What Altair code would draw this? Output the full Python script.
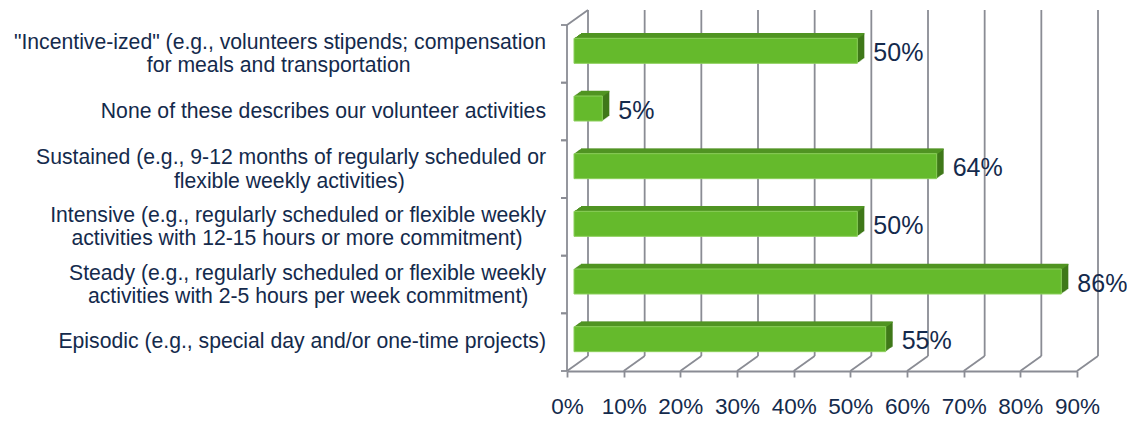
import altair as alt
import pandas as pd

# ---------------- data ----------------
line1 = [
    '"Incentive-ized" (e.g., volunteers stipends; compensation',
    'None of these describes our volunteer activities',
    'Sustained (e.g., 9-12 months of regularly scheduled or',
    'Intensive (e.g., regularly scheduled or flexible weekly',
    'Steady (e.g., regularly scheduled or flexible weekly',
    'Episodic (e.g., special day and/or one-time projects)',
]
line2 = [
    'for meals and transportation',
    '',
    'flexible weekly activities)',
    'activities with 12-15 hours or more commitment)',
    'activities with 2-5 hours per week commitment)',
    '',
]
values = [50, 5, 64, 50, 86, 55]
tick_values = [0, 10, 20, 30, 40, 50, 60, 70, 80, 90]

# ---------------- styles ----------------
FONT = "Liberation Sans"
TEXT = "#142A4C"
GRID = "#8A8C94"
FRONT = "#65BA2C"
TOP = "#509422"
SIDE = "#3F7819"
EDGE = "#8CCF5C"
W, H = 510, 346
DX, DY = 21, -15        # depth of the back wall
BDX, BDY = 7, -5        # depth of a bar
BAR = 25
LW = 1.8

# Arial/Helvetica advance widths (1/1000 em) to centre the second line
_w = {' ': 278, '"': 355, '(': 333, ')': 333, ',': 278, '-': 333, '.': 278,
      '/': 278, ';': 278, ':': 278, '%': 889}
for c in '0123456789':
    _w[c] = 556
_w.update(dict(zip('ABCDEFGHIJKLMNOPQRSTUVWXYZ',
                   [667, 667, 722, 722, 667, 611, 778, 722, 278, 500, 667, 556, 833,
                    722, 778, 667, 778, 722, 667, 611, 722, 667, 944, 667, 667, 611])))
_w.update(dict(zip('abcdefghijklmnopqrstuvwxyz',
                   [556, 556, 500, 556, 556, 278, 556, 556, 222, 222, 500, 222, 833,
                    556, 556, 556, 556, 333, 500, 278, 556, 500, 722, 500, 500, 500])))


def tw(s):
    return sum(_w.get(ch, 556) for ch in s)


def pad_lines(a, b):
    """Right-aligned block whose lines are centred on each other."""
    if not b:
        return a
    diff = tw(a) - tw(b)
    n = int(round(abs(diff) / 2 / 278))
    pad = '\u00a0' * n + '\u200b'   # zero-width end keeps the padding from being trimmed
    if diff > 0:
        b = b + pad
    else:
        a = a + pad
    return a + '\n' + b


cats = [f"c{i}" for i in range(len(values))]
df = pd.DataFrame({
    "cat": cats,
    "v": values,
    "lab": [f"{v}%" for v in values],
    "disp": [pad_lines(a, b) for a, b in zip(line1, line2)],
    "nl": [2 if b else 1 for b in line2],
})
ticks_df = pd.DataFrame({"t": tick_values})
zero_df = pd.DataFrame({"t": [tick_values[0]]})

xs = alt.Scale(domain=[tick_values[0], tick_values[-1]], nice=False, zero=False)
ys = alt.Scale(domain=cats, paddingInner=0, paddingOuter=0)
xaxis = alt.Axis(values=tick_values, labelExpr="datum.value + '%'", grid=False,
                 domainColor=GRID, domainWidth=LW, tickColor=GRID, tickWidth=LW,
                 tickSize=6, labelFontSize=22.5, labelColor=TEXT, labelFont=FONT,
                 labelPadding=18, title=None, labelFlush=False, labelOverlap=False)


def X(f):
    return alt.X(f, type="quantitative", scale=xs, axis=xaxis)


def Y(**kw):
    return alt.Y("cat:N", scale=ys, axis=None, sort=cats, **kw)


layers = []

# back wall gridlines
layers.append(alt.Chart(ticks_df).mark_rule(color=GRID, strokeWidth=LW, xOffset=DX,
                                             yOffset=DY, y2Offset=DY).encode(
    x=X("t"), y=alt.value(0), y2=alt.value(H)))
# floor diagonals
layers.append(alt.Chart(ticks_df).mark_rule(color=GRID, strokeWidth=LW, x2Offset=DX,
                                             y2Offset=DY).encode(
    x=X("t"), x2=alt.X2("t"), y=alt.value(H), y2=alt.value(H)))
# left wall front edge and top diagonal
layers.append(alt.Chart(zero_df).mark_rule(color=GRID, strokeWidth=LW).encode(
    x=X("t"), y=alt.value(0), y2=alt.value(H)))
layers.append(alt.Chart(zero_df).mark_rule(color=GRID, strokeWidth=LW, x2Offset=DX,
                                            y2Offset=DY).encode(
    x=X("t"), x2=alt.X2("t"), y=alt.value(0), y2=alt.value(0)))
# left category ticks
for bp in (0, 1):
    layers.append(alt.Chart(df).mark_rule(color=GRID, strokeWidth=LW).encode(
        x=alt.value(-6), x2=alt.value(0), y=Y(bandPosition=bp)))

# bars: side/back copies
YO = -3
for k in range(1, BDX + 1):
    layers.append(alt.Chart(df).mark_bar(color=SIDE, size=BAR, xOffset=BDX + k,
                                         x2Offset=BDX + k,
                                         yOffset=YO + BDY * k / BDX).encode(
        x=X("v"), x2=alt.datum(0), y=Y()))
# top face
for m in range(1, -BDY + 1):
    sh = BDX + m * BDX / (-BDY)
    layers.append(alt.Chart(df).mark_rule(color=TOP, strokeWidth=1.5, xOffset=sh,
                                          x2Offset=sh,
                                          yOffset=YO - BAR / 2 - m + 0.5).encode(
        x=X("v"), x2=alt.datum(0), y=Y()))
# front face
layers.append(alt.Chart(df).mark_bar(color=FRONT, size=BAR, xOffset=BDX, x2Offset=BDX,
                                     yOffset=YO, stroke=EDGE, strokeWidth=1).encode(
    x=X("v"), x2=alt.datum(0), y=Y()))
# value labels
layers.append(alt.Chart(df).mark_text(align="left", baseline="middle", dx=23, dy=-1,
                                      fontSize=25, font=FONT, color=TEXT).encode(
    x=X("v"), y=Y(), text="lab:N"))
# category labels (one- and two-line blocks centred on their band)
for nl, dy in ((1, 0), (2, -11)):
    layers.append(alt.Chart(df).transform_filter(alt.datum.nl == nl).mark_text(
        align="right", baseline="middle", dx=-21, dy=dy, fontSize=21.2, lineHeight=23.5,
        lineBreak="\n", font=FONT, color=TEXT).encode(
        x=alt.value(0), y=Y(), text="disp:N"))

chart = alt.layer(*layers).properties(
    width=W, height=H,
    padding={"left": 559, "top": 17, "right": 50, "bottom": 47},
    autosize=alt.AutoSizeParams(type="none"),
    background="white",
).configure_view(stroke=None)

chart.save("out.html", embed_options={"renderer": "svg", "actions": False})
